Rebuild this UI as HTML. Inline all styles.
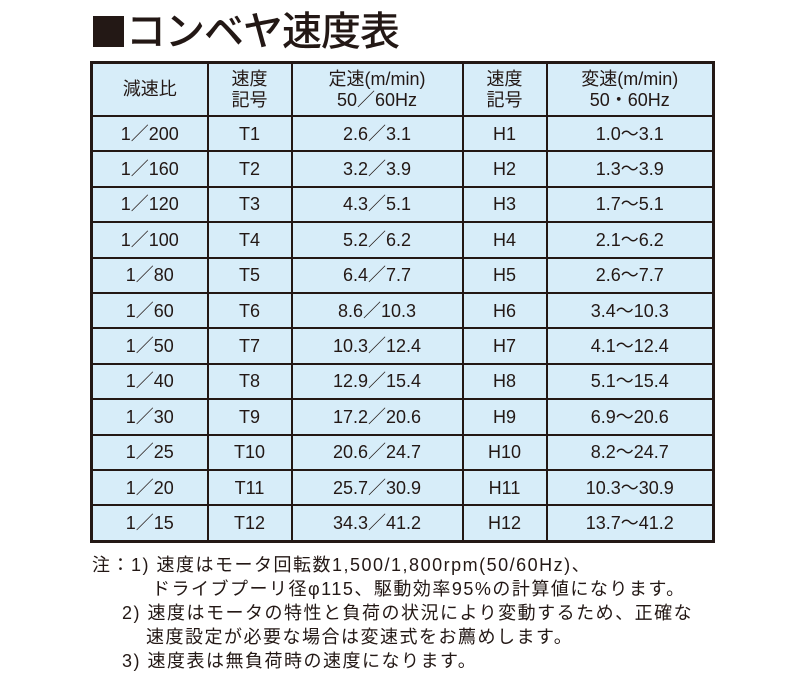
<!DOCTYPE html>
<html><head><meta charset="utf-8"><style>
body{margin:0;width:800px;height:700px;background:#fff;font-family:"Liberation Sans","Noto Sans CJK JP",sans-serif;color:#231815;position:relative;overflow:hidden}
.t{position:absolute;left:93px;top:8px;font-size:40px;font-weight:500;line-height:48px;letter-spacing:-1px}
.sq{display:inline-block;width:31px;height:31px;background:#231815;margin-right:2px;vertical-align:-2px}
table{position:absolute;left:90px;top:61px;border-collapse:collapse;border:3px solid #231815}
td{border:2px solid #231815;background:#d7edf9;text-align:center;font-size:18px;padding:0;height:33.4px;line-height:20px}
tr.h td{height:51px;font-size:18px;line-height:21px}
.n{position:absolute;font-size:18px;line-height:24px;white-space:nowrap;letter-spacing:1.5px}
</style></head><body>
<div class="t"><span class="sq"></span>コンベヤ速度表</div>
<table>
<colgroup><col style="width:116px"><col style="width:84px"><col style="width:171px"><col style="width:84px"><col style="width:167px"></colgroup>
<tr class="h"><td>減速比</td><td>速度<br>記号</td><td>定速(m/min)<br>50／60Hz</td><td>速度<br>記号</td><td>変速(m/min)<br>50・60Hz</td></tr>
<tr><td>1／200</td><td>T1</td><td>2.6／3.1</td><td>H1</td><td>1.0～3.1</td></tr>
<tr><td>1／160</td><td>T2</td><td>3.2／3.9</td><td>H2</td><td>1.3～3.9</td></tr>
<tr><td>1／120</td><td>T3</td><td>4.3／5.1</td><td>H3</td><td>1.7～5.1</td></tr>
<tr><td>1／100</td><td>T4</td><td>5.2／6.2</td><td>H4</td><td>2.1～6.2</td></tr>
<tr><td>1／80</td><td>T5</td><td>6.4／7.7</td><td>H5</td><td>2.6～7.7</td></tr>
<tr><td>1／60</td><td>T6</td><td>8.6／10.3</td><td>H6</td><td>3.4～10.3</td></tr>
<tr><td>1／50</td><td>T7</td><td>10.3／12.4</td><td>H7</td><td>4.1～12.4</td></tr>
<tr><td>1／40</td><td>T8</td><td>12.9／15.4</td><td>H8</td><td>5.1～15.4</td></tr>
<tr><td>1／30</td><td>T9</td><td>17.2／20.6</td><td>H9</td><td>6.9～20.6</td></tr>
<tr><td>1／25</td><td>T10</td><td>20.6／24.7</td><td>H10</td><td>8.2～24.7</td></tr>
<tr><td>1／20</td><td>T11</td><td>25.7／30.9</td><td>H11</td><td>10.3～30.9</td></tr>
<tr><td>1／15</td><td>T12</td><td>34.3／41.2</td><td>H12</td><td>13.7～41.2</td></tr>
</table>
<div class="n" style="left:92px;top:553px">注：1) 速度はモータ回転数1,500/1,800rpm(50/60Hz)、</div>
<div class="n" style="left:152px;top:577px">ドライブプーリ径φ115、駆動効率95%の計算値になります。</div>
<div class="n" style="left:122px;top:601px">2) 速度はモータの特性と負荷の状況により変動するため、正確な</div>
<div class="n" style="left:146px;top:625px">速度設定が必要な場合は変速式をお薦めします。</div>
<div class="n" style="left:122px;top:649px">3) 速度表は無負荷時の速度になります。</div>
</body></html>
